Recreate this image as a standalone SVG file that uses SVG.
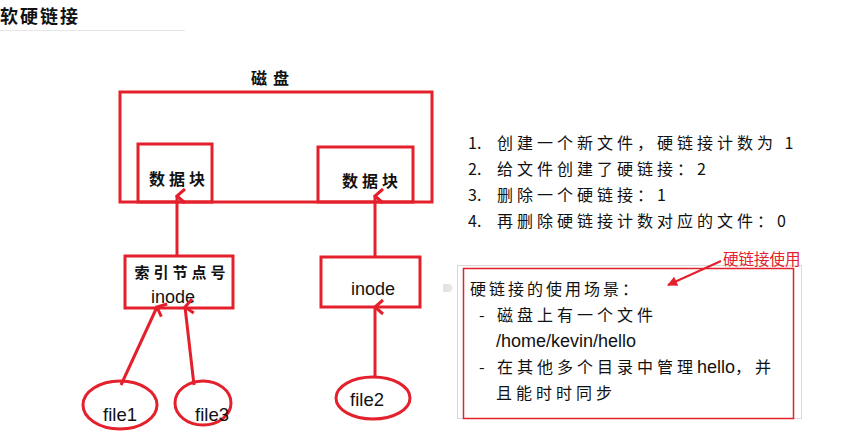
<svg xmlns="http://www.w3.org/2000/svg" width="847" height="435" viewBox="0 0 847 435">
<style>
.r{fill:none;stroke:#e3202b;stroke-width:3}
.cn{font-family:"Noto Sans CJK SC","Noto Sans",sans-serif;fill:#111}
.en{font-family:"Liberation Sans",Arial,sans-serif;fill:#111}
.ln{stroke:#e3202b;stroke-width:3;fill:none}
.sp{letter-spacing:4px}
.ns{letter-spacing:0}
</style>
<defs>
<marker id="chev" viewBox="0 0 20 20" refX="10" refY="2" markerWidth="20" markerHeight="20" markerUnits="userSpaceOnUse" orient="auto-start-reverse">
<path d="M3,10 L10,2 L17,10" fill="none" stroke="#e3202b" stroke-width="3"/>
</marker>
<marker id="tri" viewBox="0 0 10 10" refX="9" refY="5" markerWidth="14" markerHeight="10" markerUnits="userSpaceOnUse" orient="auto">
<path d="M0,0 L10,5 L0,10 z" fill="#e3202b"/>
</marker>
</defs>
<rect width="847" height="435" fill="#fff"/>
<g id="title">
<text x="0" y="23" class="cn" font-size="18" font-weight="bold" letter-spacing="2">软硬链接</text>
<line x1="0" y1="30.5" x2="185" y2="30.5" stroke="#e6e6e6" stroke-width="1"/>
</g>
<g id="disk">
<text x="273" y="84" class="cn" font-size="16" font-weight="bold" text-anchor="middle" letter-spacing="6">磁盘</text>
<rect x="120" y="92" width="312" height="110" class="r"/>
</g>
<g id="block1">
<rect x="138" y="144" width="74" height="58" class="r"/>
<text x="179" y="185" class="cn sp" font-size="16" font-weight="bold" text-anchor="middle">数据块</text>
</g>
<g id="block2">
<rect x="318" y="147" width="95" height="55" class="r"/>
<text x="372" y="187" class="cn sp" font-size="16" font-weight="bold" text-anchor="middle">数据块</text>
</g>
<g id="inode1">
<rect x="125" y="256" width="108" height="52" class="r"/>
<text x="182" y="278" class="cn sp" font-size="15" font-weight="bold" text-anchor="middle">索引节点号</text>
<text x="173" y="303" class="en" font-size="18" text-anchor="middle">inode</text>
</g>
<g id="inode2">
<rect x="321" y="257" width="99" height="50" class="r"/>
<text x="373" y="295" class="en" font-size="18" text-anchor="middle">inode</text>
</g>
<g id="file1">
<ellipse cx="120" cy="405" rx="37" ry="24" class="r"/>
<text x="120" y="421" class="en" font-size="18.5" text-anchor="middle">file1</text>
</g>
<g id="file3">
<ellipse cx="203" cy="403" rx="28" ry="22" class="r"/>
<text x="212" y="421" class="en" font-size="18.5" text-anchor="middle">file3</text>
</g>
<g id="file2">
<ellipse cx="373" cy="398" rx="37" ry="21" class="r"/>
<text x="367" y="406" class="en" font-size="18.5" text-anchor="middle">file2</text>
</g>
<g id="connectors">
<line x1="177" y1="256" x2="177" y2="196" class="ln" marker-end="url(#chev)"/>
<line x1="375" y1="257" x2="375" y2="196" class="ln" marker-end="url(#chev)"/>
<line x1="121" y1="385" x2="157" y2="307" class="ln" marker-end="url(#chev)"/>
<line x1="194" y1="385" x2="185" y2="307" class="ln" marker-end="url(#chev)"/>
<line x1="375" y1="377" x2="375" y2="307" class="ln" marker-end="url(#chev)"/>
</g>
<g id="steps" class="cn sp" font-size="16">
<text x="468" y="149"><tspan class="ns">1.</tspan><tspan x="497">创建一个新文件，硬链接计数为 1</tspan></text>
<text x="468" y="175"><tspan class="ns">2.</tspan><tspan x="497">给文件创建了硬链接：2</tspan></text>
<text x="468" y="201"><tspan class="ns">3.</tspan><tspan x="497">删除一个硬链接：1</tspan></text>
<text x="468" y="227"><tspan class="ns">4.</tspan><tspan x="497">再删除硬链接计数对应的文件：0</tspan></text>
</g>
<g id="note">
<rect x="457.5" y="265.5" width="344" height="153" fill="#fff" stroke="#d9d9d9" stroke-width="1"/>
<path d="M443,284 h7 l3,4 l-3,4 h-7 z" fill="#e4e4e4"/>
<rect x="463.5" y="268.5" width="330" height="150" fill="none" stroke="#e3202b" stroke-width="1.5"/>
<g class="cn" font-size="16">
<text x="470" y="295" letter-spacing="3">硬链接的使用场景：</text>
<text x="479" y="321" letter-spacing="4">-<tspan x="497">磁盘上有一个文件</tspan></text>
<text x="496" y="347" class="en" font-size="18">/home/kevin/hello</text>
<text x="479" y="373" letter-spacing="4">-<tspan x="497">在其他多个目录中管理</tspan><tspan class="en ns" font-size="18">hello</tspan>，并</text>
<text x="496" y="399" letter-spacing="4">且能时时同步</text>
</g>
</g>
<g id="annotation">
<line x1="721" y1="261" x2="668" y2="285" stroke="#e3202b" stroke-width="2" marker-end="url(#tri)"/>
<text x="723" y="265" class="cn" font-size="15.5" style="fill:#e3202b">硬链接使用</text>
</g>
</svg>
